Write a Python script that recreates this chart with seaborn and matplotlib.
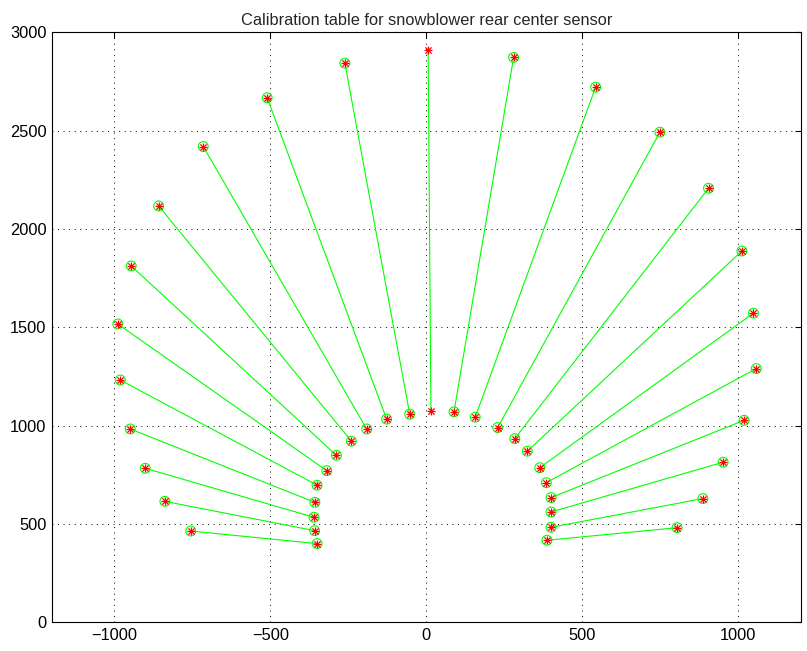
import matplotlib
matplotlib.use("Agg")
import matplotlib.pyplot as plt
import seaborn as sns
import pandas as pd
import numpy as np

# Inner (measured) ends and outer (true) ends of each calibration segment
inner_x = [-350, -358, -360, -357, -350, -319, -288, -240, -191, -127, -53,
           89, 157, 229, 284, 324, 364, 385, 400, 400, 400, 387]
inner_y = [400, 466, 534, 610, 697, 771, 849, 921, 983, 1033, 1058,
           1070, 1043, 990, 934, 870, 786, 710, 634, 561, 483, 417]
outer_x = [-755, -838, -901, -949, -981, -989, -946, -858, -715, -510, -261,
           280, 543, 749, 905, 1012, 1049, 1058, 1019, 952, 887, 804]
outer_y = [464, 615, 783, 983, 1232, 1517, 1812, 2117, 2419, 2667, 2843,
           2872, 2721, 2492, 2207, 1888, 1572, 1290, 1027, 814, 629, 481]

# Center segment (stars only, no circles)
center_x = [15, 6]
center_y = [1075, 2911]

title = "Calibration table for snowblower rear center sensor"
xticks = [-1000, -500, 0, 500, 1000]
yticks = [0, 500, 1000, 1500, 2000, 2500, 3000]

sns.set_style("white")
plt.rcParams['font.family'] = ['Liberation Sans', 'DejaVu Sans']
plt.rcParams['lines.scale_dashes'] = False

# Build segment table
rows = []
for i, (ix, iy, ox, oy) in enumerate(zip(inner_x, inner_y, outer_x, outer_y)):
    rows.append(dict(seg=i, x=ix, y=iy, order=0))
    rows.append(dict(seg=i, x=ox, y=oy, order=1))
nseg = len(inner_x)
rows.append(dict(seg=nseg, x=center_x[0], y=center_y[0], order=0))
rows.append(dict(seg=nseg, x=center_x[1], y=center_y[1], order=1))
seg_df = pd.DataFrame(rows)

circ_df = pd.DataFrame({"x": inner_x + outer_x, "y": inner_y + outer_y})
star_df = pd.DataFrame({"x": inner_x + outer_x + center_x,
                        "y": inner_y + outer_y + center_y})

fig = plt.figure(figsize=(8.07, 6.51), dpi=100)
ax = fig.add_axes([0.0644, 0.0441, 0.9276, 0.9063])

sns.lineplot(data=seg_df, x="x", y="y", units="seg", estimator=None, sort=False,
             color="#00ff00", lw=0.8, ax=ax, legend=False)
sns.scatterplot(data=circ_df, x="x", y="y", marker="o", s=50,
                facecolor="none", edgecolor="#00ff00", linewidth=0.8, ax=ax, zorder=3)
sns.scatterplot(data=star_df, x="x", y="y", marker="+", s=32,
                color="#ff0000", linewidth=0.9, ax=ax, zorder=4)
sns.scatterplot(data=star_df, x="x", y="y", marker="x", s=20,
                color="#ff0000", linewidth=0.9, ax=ax, zorder=4)

ax.set_xlim(-1200, 1200)
ax.set_ylim(0, 3000)
ax.set_xticks(xticks)
ax.set_yticks(yticks)
ax.set_xticklabels([str(t).replace('-', '\u2212') for t in xticks])
ax.set_yticklabels([str(t) for t in yticks])
ax.set_xlabel("")
ax.set_ylabel("")
ax.set_title(title, fontsize=11.8, pad=5)

ax.grid(True, color="black", linestyle=(0, (0.7, 3.3)), linewidth=0.7)
ax.tick_params(direction="in", length=4, width=0.8, top=True, right=True,
               labelsize=11.8, colors="black", pad=4)
for sp in ax.spines.values():
    sp.set_visible(True)
    sp.set_color("black")
    sp.set_linewidth(0.8)

fig.savefig("out.png", dpi=100)
